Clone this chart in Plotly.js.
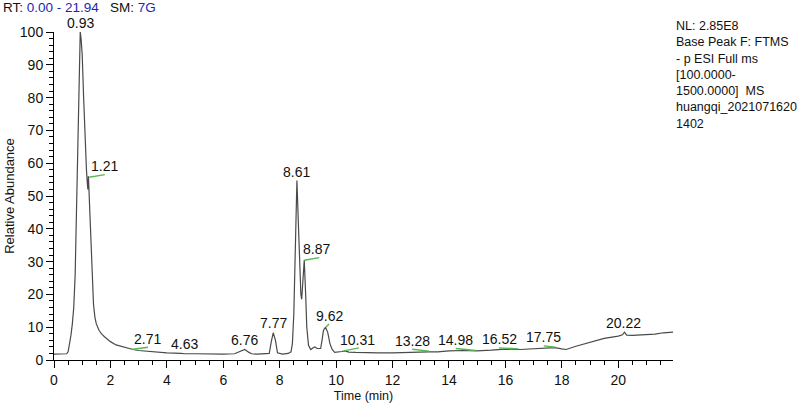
<!DOCTYPE html>
<html>
<head>
<meta charset="utf-8">
<script src="https://cdn.plot.ly/plotly-3.0.1.min.js"></script>
<style>
  html, body { margin: 0; padding: 0; background: #fff; }
  #chrom { width: 809px; height: 404px; }
</style>
</head>
<body>
<div id="chrom"></div>
<script>
// retention time (min) and relative abundance (%)
var rt = [0, 0.3, 0.45, 0.5, 0.55, 0.6, 0.65, 0.7, 0.75, 0.8, 0.85, 0.9, 0.93, 0.96, 1.0, 1.05, 1.1, 1.15, 1.18, 1.2, 1.22, 1.25, 1.3, 1.35, 1.4, 1.45, 1.5, 1.6, 1.7, 1.8, 2.0, 2.2, 2.5, 2.8, 3.0, 3.5, 4.0, 4.5, 4.63, 5.0, 5.5, 6.0, 6.4, 6.6, 6.76, 6.9, 7.0, 7.2, 7.5, 7.63, 7.7, 7.77, 7.85, 7.92, 8.1, 8.3, 8.4, 8.45, 8.5, 8.53, 8.56, 8.61, 8.66, 8.7, 8.75, 8.78, 8.82, 8.87, 8.92, 8.96, 9.02, 9.1, 9.2, 9.25, 9.32, 9.45, 9.5, 9.55, 9.62, 9.7, 9.78, 9.86, 9.95, 10.1, 10.2, 10.31, 10.45, 10.7, 11.0, 11.5, 12.0, 12.5, 13.0, 13.28, 13.6, 14.0, 14.5, 14.98, 15.5, 16.0, 16.52, 17.0, 17.4, 17.75, 18.0, 18.15, 18.5, 19.0, 19.5, 20.0, 20.15, 20.22, 20.3, 20.5, 21.0, 21.3, 21.6, 21.94];
var abund = [1.8, 1.8, 1.9, 2.5, 4.5, 7.5, 11, 16, 26, 48, 75, 95, 100, 98, 93, 80, 67, 58, 54, 52, 56, 50, 42, 28, 17, 13, 11, 9, 7.8, 7, 5.6, 4.6, 3.8, 3.2, 2.9, 2.5, 2.2, 2.0, 1.9, 1.9, 1.8, 1.8, 1.9, 2.6, 3.2, 2.4, 1.9, 1.8, 1.8, 2.0, 5.5, 8.3, 6, 2.2, 1.8, 2.0, 2.5, 5, 14, 24, 40, 54.7, 42, 30, 20, 18.5, 24, 30.5, 20, 10, 4.5, 3.2, 3.8, 4, 3.5, 3.5, 6, 9, 10, 8.5, 5, 3.2, 2.3, 2.4, 2.6, 2.8, 2.4, 2.3, 2.2, 2.2, 2.2, 2.4, 2.5, 2.5, 2.5, 2.8, 2.9, 2.8, 3.0, 3.3, 3.2, 3.5, 3.7, 3.8, 3.4, 3.2, 4.2, 5.5, 6.6, 7.3, 7.7, 8.5, 7.6, 7.5, 7.7, 7.9, 8.3, 8.5];

// peak labels: text and anchor point (min, %)
var peakText = ['0.93', '1.21', '2.71', '4.63', '6.76', '7.77', '8.61', '8.87', '9.62', '10.31', '13.28', '14.98', '16.52', '17.75', '20.22'];
var peakX = [0.93, 1.80, 3.30, 4.63, 6.76, 7.77, 8.61, 9.30, 9.75, 10.75, 12.70, 14.24, 15.80, 17.36, 20.20];
var peakY = [100, 56.5, 3.8, 2.0, 3.3, 8.4, 54.7, 31.2, 10.6, 3.4, 3.2, 3.4, 3.6, 4.2, 8.5];

// green baseline ticks next to shifted labels: [x0, x1], [y0, y1]
var tagX = [[1.25, 1.80], [2.74, 3.33], [8.87, 9.40], [9.63, 9.75], [10.28, 10.81], [12.70, 13.29], [14.24, 14.95], [15.77, 16.47], [17.36, 17.77]];
var tagY = [[55.7, 56.5], [3.2, 3.9], [30.4, 31.2], [10.0, 11.0], [2.8, 3.7], [3.3, 2.7], [3.5, 2.9], [3.7, 3.4], [4.3, 3.9]];

var rtRange = [0, 21.94];
var headerRT = '0.00 - 21.94';
var headerSM = '7G';
var infoLines = ['NL: 2.85E8', 'Base Peak F: FTMS', '- p ESI Full ms', '[100.0000-', '1500.0000]&nbsp;&nbsp;MS', 'huangqi_2021071620', '1402'];

var font = 'Liberation Sans, Arial, sans-serif';

var traces = [{
  x: rt, y: abund, mode: 'lines', type: 'scatter',
  line: { color: '#4a4a4a', width: 1.2 },
  hoverinfo: 'x+y'
}];

var gx = [], gy = [];
for (var i = 0; i < tagX.length; i++) {
  gx.push(tagX[i][0], tagX[i][1], null);
  gy.push(tagY[i][0], tagY[i][1], null);
}
traces.push({
  x: gx, y: gy, mode: 'lines', type: 'scatter',
  line: { color: '#55b855', width: 1.4 },
  hoverinfo: 'skip'
});

var annotations = [];
for (var j = 0; j < peakText.length; j++) {
  annotations.push({
    x: peakX[j], y: peakY[j], xref: 'x', yref: 'y',
    text: peakText[j], showarrow: false,
    xanchor: 'center', yanchor: 'bottom', yshift: -1,
    font: { family: font, size: 14, color: '#111' }
  });
}
annotations.push({
  xref: 'paper', yref: 'paper', x: -0.085, y: 1.074,
  xanchor: 'left', yanchor: 'middle', showarrow: false,
  text: 'RT:&nbsp;<span style="color:#1f1fb0">' + headerRT + '</span>&nbsp;&nbsp;&nbsp;SM:&nbsp;<span style="color:#1f1fb0">' + headerSM + '</span>',
  font: { family: font, size: 13.5, color: '#111' }
});
annotations.push({
  xref: 'paper', yref: 'paper', x: 1.002, y: 1.046,
  xanchor: 'left', yanchor: 'top', align: 'left', showarrow: false,
  text: infoLines.join('<br>'),
  font: { family: font, size: 12.5, color: '#111' }
});

var layout = {
  width: 809, height: 404,
  margin: { l: 54, r: 136, t: 31.5, b: 44 },
  paper_bgcolor: '#fff', plot_bgcolor: '#fff',
  showlegend: false,
  font: { family: font, size: 14, color: '#111' },
  xaxis: {
    range: rtRange, showgrid: false, zeroline: false,
    showline: true, linecolor: '#000', linewidth: 1,
    ticks: 'outside', ticklen: 7, tickcolor: '#000', dtick: 2, tick0: 0,
    minor: { dtick: 0.5, ticks: 'outside', ticklen: 4, tickcolor: '#000', showgrid: false },
    tickfont: { family: font, size: 14, color: '#111' },
    title: { text: 'Time (min)', font: { family: font, size: 12.5, color: '#111' }, standoff: 4 }
  },
  yaxis: {
    range: [0, 100], showgrid: false, zeroline: false,
    showline: true, linecolor: '#000', linewidth: 1,
    ticks: 'outside', ticklen: 7, tickcolor: '#000', dtick: 10, tick0: 0,
    minor: { dtick: 2, ticks: 'outside', ticklen: 4, tickcolor: '#000', showgrid: false },
    tickfont: { family: font, size: 14, color: '#111' },
    title: { text: 'Relative Abundance', font: { family: font, size: 13, color: '#111' }, standoff: 2 }
  },
  annotations: annotations
};

Plotly.newPlot('chrom', traces, layout, { displayModeBar: false, staticPlot: true });
</script>
</body>
</html>
